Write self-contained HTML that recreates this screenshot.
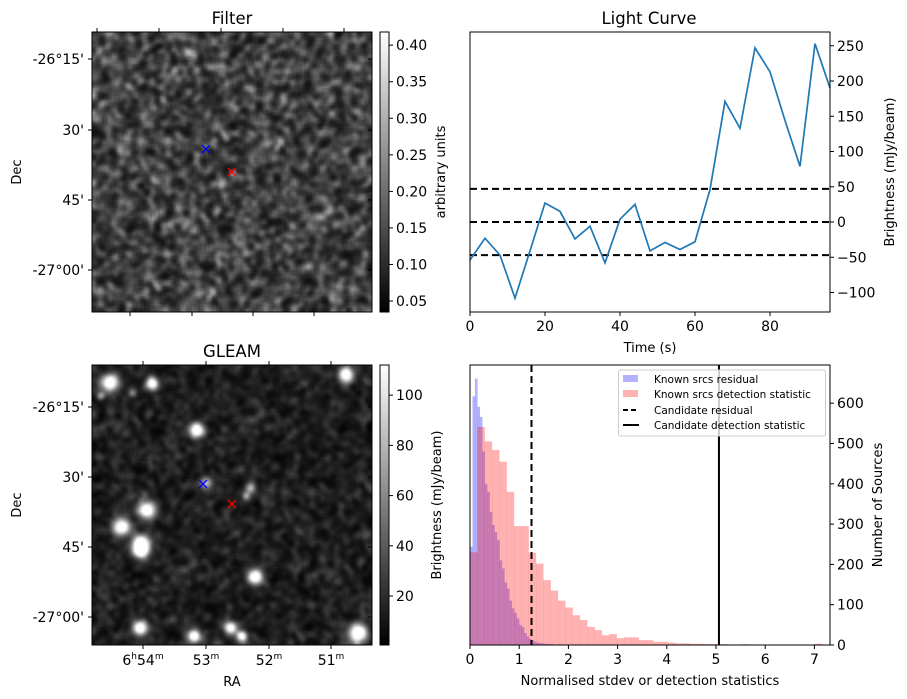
<!DOCTYPE html>
<html><head><meta charset="utf-8">
<style>
body{margin:0;background:#fff;width:907px;height:699px;overflow:hidden;position:relative;font-family:"DejaVu Sans","Liberation Sans",sans-serif}
canvas{position:absolute;image-rendering:auto}
svg{position:absolute;left:0;top:0}
text{font-family:"DejaVu Sans","Liberation Sans",sans-serif;fill:#000}
</style></head><body>
<canvas id="filterImg" width="140" height="140" style="left:92px;top:32px;width:280px;height:280px"></canvas>
<canvas id="gleamImg" width="140" height="140" style="left:92px;top:365px;width:280px;height:280px"></canvas>
<svg id="fig" width="907" height="699"></svg>
<script>
// ---- data ----
const lcTimes=[0,4,8,12,16,20,24,28,32,36,40,44,48,52,56,60,64,68,72,76,80,84,88,92,96];
const lcValues=[-54,-23,-47,-108,-41,27,15,-24,-6,-58,4,25,-41,-29,-39,-28,46,171,133,247,213,144,79,253,190];
const lcThresholds=[47,0,-47];
const lcYTicks=[-100,-50,0,50,100,150,200,250];
const lcXTicks=[0,20,40,60,80];
const redBinWidth=0.149;
const redCounts=[230,541,505,484,455,380,295,295,229,202,161,135,110,93,74,62,45,37,24,27,17,19,19,12,12,8,8,6,4,4,3,3,2,2,2,1,1,2,1,1,1,1,0,1,0,0,1,3,0];
const blueBinWidth=0.05;
const blueCounts=[244,617,661,591,566,480,400,380,330,298,280,260,210,190,155,140,110,91,80,66,50,45,30,21,15,12,8,6,5,4,3,3,2,2,1,1,2,1,1,0,1,1];
const candResidual=1.25;
const candDetection=5.06;
const histXTicks=[0,1,2,3,4,5,6,7];
const histYTicks=[0,100,200,300,400,500,600];
const filterCbTicks=[0.05,0.10,0.15,0.20,0.25,0.30,0.35,0.40];
const gleamCbTicks=[20,40,60,80,100];
const decLabels=["-26°15'","30'","45'","-27°00'"];
const raLabels=["54","53","52","51"];

const NS="http://www.w3.org/2000/svg";
const svg=document.getElementById('fig');
function el(tag,attrs,parent){const e=document.createElementNS(NS,tag);for(const k in attrs)e.setAttribute(k,attrs[k]);(parent||svg).appendChild(e);return e;}
function txt(s,x,y,opts,parent){const t=el('text',Object.assign({x:x,y:y,'font-size':14},opts||{}),parent);t.textContent=s;return t;}

// ---- light curve ----
const LC={x0:470,x1:830,y0:32,y1:312};
const lx=t=>LC.x0+(t-0)/(96-0)*(LC.x1-LC.x0);
const ly=v=>222-v*0.705;
const lcG=el('g',{});


lcThresholds.forEach((v,i)=>{const l=el('line',{x1:LC.x0,x2:LC.x1,y1:ly(v),y2:ly(v),stroke:'#000','stroke-width':2,'stroke-dasharray':'7,4'},lcG);

});
const pts=lcTimes.map((t,i)=>lx(t)+','+ly(lcValues[i])).join(' ');
const pl=el('polyline',{points:pts,fill:'none',stroke:'#1f77b4','stroke-width':1.7},lcG);


el('rect',{x:LC.x0,y:LC.y0,width:LC.x1-LC.x0,height:LC.y1-LC.y0,fill:'none',stroke:'#000','stroke-width':1},lcG);
lcYTicks.forEach(v=>{const y=ly(v);el('line',{x1:LC.x1,x2:LC.x1+4,y1:y,y2:y,stroke:'#000'},lcG);
const t=txt((v<0?'\u2212'+(-v):''+v),LC.x1+7,y+5,{},lcG);});
lcXTicks.forEach(v=>{const x=lx(v);el('line',{x1:x,x2:x,y1:LC.y1,y2:LC.y1+4,stroke:'#000'},lcG);
const t=txt(''+v,x,LC.y1+19,{'text-anchor':'middle'},lcG);});
let t1=txt('Light Curve',649,24,{'text-anchor':'middle','font-size':16.5},lcG);
t1=txt('Time (s)',650,352,{'text-anchor':'middle','font-size':13},lcG);
t1=txt('Brightness (mJy/beam)',0,0,{'text-anchor':'middle','font-size':13,transform:'translate(894,172) rotate(-90)'},lcG);

// ---- histogram ----
const H={x0:470,x1:830,y0:365,y1:645};
const hx=v=>H.x0+v*49.2;
const hy=c=>H.y1-c*0.403;
const hG=el('g',{});


blueCounts.forEach((c,i)=>{if(!c)return;const x=hx(i*blueBinWidth),w=hx((i+1)*blueBinWidth)-x;
const r=el('rect',{x:x,y:hy(c),width:w+0.2,height:H.y1-hy(c),fill:'rgba(0,0,255,0.3)'},hG);

});
redCounts.forEach((c,i)=>{if(!c)return;const x=hx(i*redBinWidth),w=hx((i+1)*redBinWidth)-x;
const r=el('rect',{x:x,y:hy(c),width:w+0.2,height:H.y1-hy(c),fill:'rgba(255,0,0,0.3)'},hG);

});
let cl=el('line',{x1:hx(candResidual),x2:hx(candResidual),y1:H.y0,y2:H.y1,stroke:'#000','stroke-width':2,'stroke-dasharray':'7,4'},hG);

cl=el('line',{x1:hx(candDetection),x2:hx(candDetection),y1:H.y0,y2:H.y1,stroke:'#000','stroke-width':2},hG);

el('rect',{x:H.x0,y:H.y0,width:H.x1-H.x0,height:H.y1-H.y0,fill:'none',stroke:'#000'},hG);
histXTicks.forEach(v=>{const x=hx(v);el('line',{x1:x,x2:x,y1:H.y1,y2:H.y1+4,stroke:'#000'},hG);
const t=txt(''+v,x,H.y1+19,{'text-anchor':'middle'},hG);});
histYTicks.forEach(v=>{const y=hy(v);el('line',{x1:H.x1,x2:H.x1+4,y1:y,y2:y,stroke:'#000'},hG);
const t=txt(''+v,H.x1+7,y+5,{},hG);});
t1=txt('Normalised stdev or detection statistics',650,685,{'text-anchor':'middle','font-size':13},hG);
t1=txt('Number of Sources',0,0,{'text-anchor':'middle','font-size':13,transform:'translate(882,505) rotate(-90)'},hG);
// legend
const lg=el('g',{},hG);


el('rect',{x:618.5,y:370,width:207,height:66,rx:2,fill:'rgba(255,255,255,0.8)',stroke:'#ccc'},lg);
el('rect',{x:623,y:375,width:15,height:7,fill:'rgba(0,0,255,0.3)'},lg);
el('rect',{x:623,y:390,width:15,height:7,fill:'rgba(255,0,0,0.3)'},lg);
el('line',{x1:623,x2:639,y1:410,y2:410,stroke:'#000','stroke-width':2,'stroke-dasharray':'5,3'},lg);
el('line',{x1:623,x2:639,y1:425,y2:425,stroke:'#000','stroke-width':2},lg);
[['Known srcs residual',383],['Known srcs detection statistic',398],['Candidate residual',414],['Candidate detection statistic',429]].forEach(a=>{const t=txt(a[0],654,a[1],{'font-size':10.5},lg);});

// ---- image panels axes ----
function imagePanel(y0,title,cbTicks,cbMin,cbMax,decimals,cbLabel,cbLabelX,topTicks,botTicks,decYs,blue,red,name,showRa){
 const g=el('g',{});
 
 
 el('rect',{x:92,y:y0,width:280,height:280,fill:'none',stroke:'#000'},g);
 decYs.forEach((y,i)=>{el('line',{x1:88,x2:92,y1:y,y2:y,stroke:'#000'},g);el('line',{x1:372,x2:368,y1:y,y2:y,stroke:'#000'},g);
  const t=txt(decLabels[i],84,y+5,{'text-anchor':'end'},g);});
 topTicks.forEach(x=>el('line',{x1:x,x2:x,y1:y0,y2:y0-4,stroke:'#000'},g));
 botTicks.forEach(x=>el('line',{x1:x,x2:x,y1:y0+280,y2:y0+284,stroke:'#000'},g));
 let t=txt(title,232,y0-8,{'text-anchor':'middle','font-size':16.5},g);
 t=txt('Dec',0,0,{'text-anchor':'middle','font-size':13,transform:'translate(21,'+(y0+140)+') rotate(-90)'},g);
 [[blue,'#0000ff'],[red,'#ff0000']].forEach(m=>{const p=el('path',{d:`M${m[0][0]-4},${m[0][1]-4}L${m[0][0]+4},${m[0][1]+4}M${m[0][0]-4},${m[0][1]+4}L${m[0][0]+4},${m[0][1]-4}`,stroke:m[1],'stroke-width':1.3},g);
  });
 const id='grad'+name;
 const defs=el('defs',{},g);const lgd=el('linearGradient',{id:id,x1:0,y1:1,x2:0,y2:0},defs);
 el('stop',{offset:0,'stop-color':'#000'},lgd);el('stop',{offset:1,'stop-color':'#fff'},lgd);
 const cb=el('rect',{x:380,y:y0,width:9,height:280,fill:`url(#${id})`,stroke:'#000'},g);
 
 const cy=v=>y0+280-(v-cbMin)/(cbMax-cbMin)*280;
 cbTicks.forEach(v=>{const y=cy(v);el('line',{x1:389,x2:393,y1:y,y2:y,stroke:'#000'},g);
  const tt=txt(v.toFixed(decimals),396,y+5,{},g);});
 t=txt(cbLabel,0,0,{'text-anchor':'middle','font-size':13,transform:`translate(${cbLabelX},${y0+140}) rotate(-90)`},g);
 if(showRa){
  raLabels.forEach((m,i)=>{const x=botTicks[i];const tt=el('text',{x:x,y:y0+300,'font-size':14,'text-anchor':'middle'},g);
   tt.innerHTML=(i==0?'6<tspan font-size="9" dy="-6">h</tspan><tspan dy="6">'+m+'</tspan>':m)+'<tspan font-size="9" dy="-6">m</tspan>';
   });
  t=txt('RA',232,y0+321,{'text-anchor':'middle','font-size':13},g);
 }
}
imagePanel(32,'Filter',filterCbTicks,0.035,0.418,2,'arbitrary units',445,[97,159,221,283,344],[130,192,253,314],[59,130,200,270],[206,149],[232,172],'filter-panel',false);
imagePanel(365,'GLEAM',gleamCbTicks,0.5,112,0,'Brightness (mJy/beam)',441,[143,206,269,331],[143,206,269,331],[407,477,547,617],[203,484],[232,504],'gleam-panel',true);

// ---- images (texture) ----
let seed=12345;function rnd(){seed=(seed*1103515245+12345)&0x7fffffff;return seed/0x7fffffff;}
function blurred(n,passes){let a=new Float32Array(n*n).map(()=>rnd());
 for(let p=0;p<passes;p++){const b=new Float32Array(n*n);
  for(let y=0;y<n;y++)for(let x=0;x<n;x++){let s=0,c=0;for(let dy=-1;dy<=1;dy++)for(let dx=-1;dx<=1;dx++){const xx=x+dx,yy=y+dy;if(xx>=0&&yy>=0&&xx<n&&yy<n){s+=a[yy*n+xx];c++;}}b[y*n+x]=s/c;}a=b;}
 let mn=1e9,mx=-1e9;a.forEach(v=>{mn=Math.min(mn,v);mx=Math.max(mx,v);});return a.map(v=>(v-mn)/(mx-mn));}
function paint(id,f){const c=document.getElementById(id),ctx=c.getContext('2d'),im=ctx.createImageData(140,140);
 for(let i=0;i<140*140;i++){const v=Math.max(0,Math.min(255,f(i%140,Math.floor(i/140))));im.data[i*4]=im.data[i*4+1]=im.data[i*4+2]=v;im.data[i*4+3]=255;}ctx.putImageData(im,0,0);}
const nf=blurred(140,2);
paint('filterImg',(x,y)=>{let v=Math.pow(nf[y*140+x],1.7)*175+15;const dx=x-70,dy=y-70;if(dx*dx+dy*dy<4)v+=60;return v;});
const ng=blurred(140,2);
const blobs=[[110,383,8,1],[152,383,6,.8],[101,396,4,.35],[132,393,4,.3],[346,375,7,1],[197,430,7,1],[147,510,8,1],[122,527,8,1],[141,543,8,1],[141,551,7,1],[255,577,7,1],[140,628,7,1],[194,636,6,1],[231,628,6,.9],[242,636,5,.9],[358,633,9,1],[250,488,5,.5],[246,496,4,.45],[206,483,6,.55]];
paint('gleamImg',(x,y)=>{let v=Math.pow(ng[y*140+x],1.8)*85+3;const px=92+x*2+1,py=365+y*2+1;
 blobs.forEach(b=>{const d2=((px-b[0])**2+(py-b[1])**2)/(b[2]*b[2]);v+=b[3]*320*Math.exp(-d2*1.0);});return v;});
</script>
</body></html>
